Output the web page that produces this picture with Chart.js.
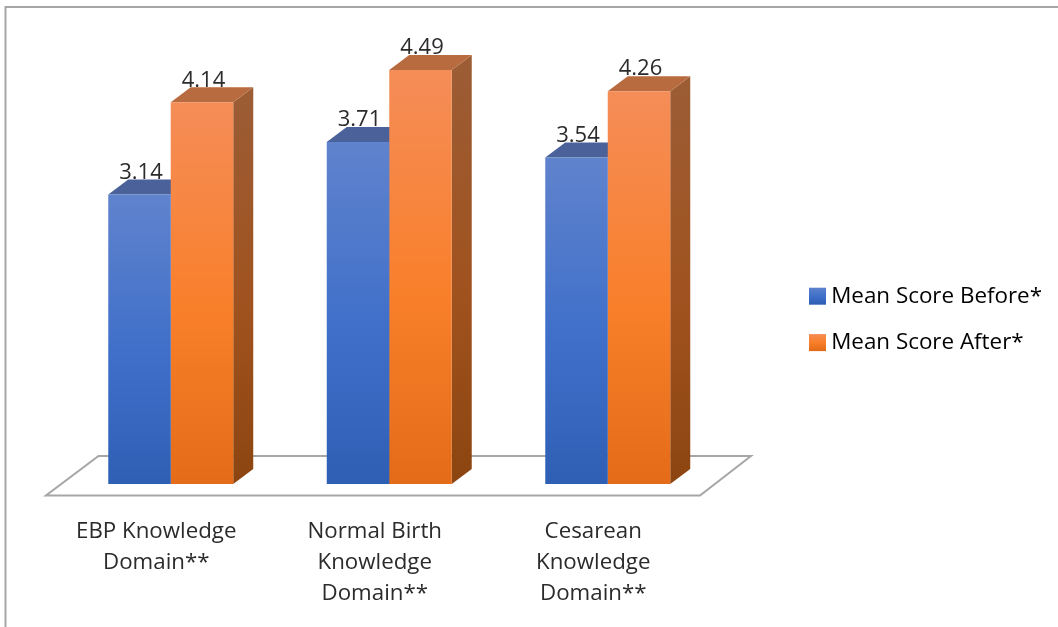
<!DOCTYPE html>
<html>
<head>
<meta charset="utf-8">
<style>
  html, body { margin: 0; padding: 0; background: #fff; }
  canvas { display: block; filter: blur(0.4px); }
</style>
<script src="https://cdn.jsdelivr.net/npm/chart.js@4"></script>
</head>
<body>
<canvas id="chart" width="1058" height="627"></canvas>
<script>
const categories = [
  ['EBP Knowledge', 'Domain**'],
  ['Normal Birth', 'Knowledge', 'Domain**'],
  ['Cesarean', 'Knowledge', 'Domain**']
];
const seriesNames = ['Mean Score Before*', 'Mean Score After*'];
const meanBefore = [3.14, 3.71, 3.54];
const meanAfter = [4.14, 4.49, 4.26];

const textColor = '#2b2b2b';
const fontFamily = '"Open Sans", sans-serif';
const depthX = 20;
const depthY = 15;

// front, side and top colours of the fake 3D columns
const blueFront = ['#6083cd', '#3f6fc9', '#2f5fb4'];
const orangeFront = ['#f58d58', '#f97f2a', '#e46c18'];
const blueSide = ['#4a6199', '#3a5590', '#2a4a80'];
const orangeSide = ['#9c5c34', '#a0521e', '#8c4510'];
const blueTop = '#4a6199';
const orangeTop = '#b86b3e';

function frontGradient(ctx, top, bottom, stops) {
  const g = ctx.createLinearGradient(0, top, 0, bottom);
  g.addColorStop(0, stops[0]);
  g.addColorStop(0.55, stops[1]);
  g.addColorStop(1, stops[2]);
  return g;
}

function barFill(stops) {
  return function (context) {
    const chart = context.chart;
    if (!chart.chartArea || context.parsed === undefined) return stops[1];
    const y = chart.scales.y;
    return frontGradient(chart.ctx, y.getPixelForValue(context.parsed.y), y.getPixelForValue(0), stops);
  };
}

// frame, floor and the top and side faces go under the bars
const box3d = {
  id: 'box3d',
  afterLayout(chart) {
    const legend = chart.legend;
    legend.left = 791;
    legend.right = 1058;
    legend.top = 261;
    legend.bottom = 627;
  },
  beforeDatasetsDraw(chart) {
    const ctx = chart.ctx;
    const area = chart.chartArea;
    ctx.save();

    // outer frame, only top and left show
    ctx.strokeStyle = '#a6a6a6';
    ctx.lineWidth = 2;
    ctx.beginPath();
    ctx.moveTo(5.5, 627);
    ctx.lineTo(5.5, 7);
    ctx.lineTo(1058, 7);
    ctx.stroke();

    // floor
    const base = area.bottom;
    ctx.beginPath();
    ctx.moveTo(area.left - 15.5, base + 11.5);
    ctx.lineTo(area.right - 17, base + 11.5);
    ctx.lineTo(area.right + 34, base - 28);
    ctx.lineTo(area.left + 37, base - 28);
    ctx.closePath();
    ctx.fillStyle = '#ffffff';
    ctx.fill();
    ctx.strokeStyle = '#a6a6a6';
    ctx.lineWidth = 2;
    ctx.stroke();

    [[blueSide, blueTop], [orangeSide, orangeTop]].forEach(function (colors, i) {
      chart.getDatasetMeta(i).data.forEach(function (bar) {
        const left = bar.x - bar.width / 2;
        const right = bar.x + bar.width / 2;

        ctx.fillStyle = frontGradient(ctx, bar.y, bar.base, colors[0]);
        ctx.beginPath();
        ctx.moveTo(right, bar.y);
        ctx.lineTo(right + depthX, bar.y - depthY);
        ctx.lineTo(right + depthX, bar.base - depthY);
        ctx.lineTo(right, bar.base);
        ctx.closePath();
        ctx.fill();

        ctx.fillStyle = colors[1];
        ctx.beginPath();
        ctx.moveTo(left, bar.y);
        ctx.lineTo(left + depthX, bar.y - depthY);
        ctx.lineTo(right + depthX, bar.y - depthY);
        ctx.lineTo(right, bar.y);
        ctx.closePath();
        ctx.fill();
      });
    });
    ctx.restore();
  },
  afterDatasetsDraw(chart) {
    const ctx = chart.ctx;
    ctx.save();
    ctx.font = '22px ' + fontFamily;
    ctx.fillStyle = textColor;
    ctx.textAlign = 'center';
    ctx.textBaseline = 'middle';
    chart.data.datasets.forEach(function (ds, i) {
      chart.getDatasetMeta(i).data.forEach(function (bar, j) {
        ctx.fillText(ds.data[j].toFixed(2), bar.x + 1.5, bar.y - 22);
      });
    });
    ctx.restore();
  }
};

// small box with a thick stroke: the swatch stays 17px but the text sits closer to it
function legendItem(ctx, i, top, stops) {
  const fill = frontGradient(ctx, top, top + 17, stops);
  return { text: seriesNames[i], fillStyle: fill, strokeStyle: fill, lineWidth: 12, datasetIndex: i };
}

new Chart(document.getElementById('chart'), {
  type: 'bar',
  data: {
    labels: categories,
    datasets: [
      { label: seriesNames[0], data: meanBefore, backgroundColor: barFill(blueFront) },
      { label: seriesNames[1], data: meanAfter, backgroundColor: barFill(orangeFront) }
    ]
  },
  options: {
    responsive: false,
    animation: false,
    categoryPercentage: 0.572,
    barPercentage: 1,
    layout: { padding: { left: 61.5, right: 341, top: 23, bottom: 0 } },
    plugins: {
      tooltip: { enabled: false },
      legend: {
        position: 'chartArea',
        align: 'start',
        labels: {
          boxWidth: 5,
          boxHeight: 5,
          padding: 24,
          color: textColor,
          font: { family: fontFamily, size: 22.4 },
          generateLabels(chart) {
            return [
              legendItem(chart.ctx, 0, 287, blueFront),
              legendItem(chart.ctx, 1, 333, orangeFront)
            ];
          }
        }
      }
    },
    scales: {
      x: {
        grid: { display: false },
        border: { display: false },
        afterFit(scale) { scale.height = 143; },
        ticks: {
          autoSkip: false,
          maxRotation: 0,
          minRotation: 0,
          padding: 24,
          labelOffset: -14.5,
          color: textColor,
          font: { family: fontFamily, size: 22.3, lineHeight: 1.39 }
        }
      },
      y: { display: false, min: 0, max: 5 }
    }
  },
  plugins: [box3d]
});
</script>
</body>
</html>
